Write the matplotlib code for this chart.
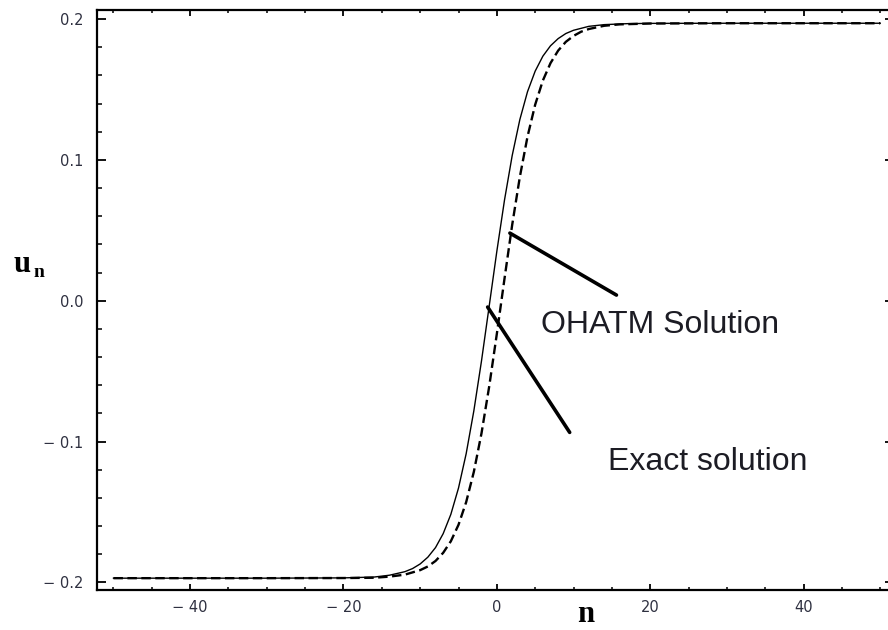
#! /usr/bin/env python3

'''
Kink solution u_n of the lattice equation: OHATM approximation against
the exact solution, with pointer lines labelling each curve.
'''


import matplotlib
matplotlib.use('Agg')
import matplotlib.pyplot as plt
from matplotlib.ticker import FuncFormatter, MultipleLocator


# OHATM solution (solid)
n_ohatm = [-50, -30, -20, -16, -14, -12, -11, -10, -9, -8, -7, -6, -5, -4,
           -3, -2, -1, 0, 1, 2, 3, 4, 5, 6, 7, 8, 9, 10, 12, 14, 17, 20,
           30, 50]
u_ohatm = [-0.1970, -0.1970, -0.1968, -0.1962, -0.1949, -0.1924, -0.1902,
           -0.1869, -0.1821, -0.1753, -0.1654, -0.1517, -0.1330, -0.1086,
           -0.0782, -0.0427, -0.0039, 0.0351, 0.0715, 0.1030, 0.1286,
           0.1484, 0.1630, 0.1736, 0.1810, 0.1861, 0.1897, 0.1920, 0.1948,
           0.1960, 0.1967, 0.1969, 0.1970, 0.1970]

# exact solution (dashed)
n_exact = [-50, -30, -20, -16, -14, -12, -10, -9, -8, -7, -6, -5, -4, -3,
           -2, -1, 0, 1, 2, 3, 4, 5, 6, 7, 8, 9, 10, 11, 12, 14, 16, 20,
           30, 50]
u_exact = [-0.1970, -0.1970, -0.1969, -0.1967, -0.1959, -0.1945, -0.1913,
           -0.1887, -0.1848, -0.1790, -0.1708, -0.1591, -0.1430, -0.1215,
           -0.0941, -0.0610, -0.0235, 0.0157, 0.0538, 0.0879, 0.1165,
           0.1392, 0.1563, 0.1687, 0.1776, 0.1838, 0.1880, 0.1910, 0.1929,
           0.1952, 0.1962, 0.1968, 0.1970, 0.1970]

# pointer lines: (tip on curve, tail near label)
ohatm_pointer = [(1.7, 0.048), (15.6, 0.004)]
exact_pointer = [(-1.2, -0.0045), (9.5, -0.0935)]

x_major, x_minor = 20, 5
y_major, y_minor = 0.1, 0.02

tick_colour = '#2e3040'


def spaced_minus(txt: str) -> str:
    '''Tick label with a detached minus sign.'''
    if txt.startswith('-'):
        return '\u2212 ' + txt[1:]
    return txt


def main():
    fig = plt.figure(figsize=(8.88, 6.30), dpi=100)
    ax = fig.add_axes([97 / 888, 40 / 630, 797 / 888, 580 / 630])

    ax.plot(n_ohatm, u_ohatm, color='black', linewidth=1.0,
            linestyle='-', solid_joinstyle='round')
    ax.plot(n_exact, u_exact, color='black', linewidth=1.7,
            linestyle=(0, (4, 1.9)))

    for (tip, tail) in (ohatm_pointer, exact_pointer):
        ax.plot([tip[0], tail[0]], [tip[1], tail[1]], color='black',
                linewidth=2.6, solid_capstyle='round')

    label_style = dict(fontsize=23, family='Liberation Sans',
                       color='#1c1c24', va='baseline', ha='left')
    ax.text(5.7, -0.023, 'OHATM Solution', **label_style)
    ax.text(14.5, -0.120, 'Exact solution', **label_style)

    ax.set_xlim(-52.15, 51.8)
    ax.set_ylim(-0.2054, 0.2064)

    ax.xaxis.set_major_locator(MultipleLocator(x_major))
    ax.xaxis.set_minor_locator(MultipleLocator(x_minor))
    ax.yaxis.set_major_locator(MultipleLocator(y_major))
    ax.yaxis.set_minor_locator(MultipleLocator(y_minor))
    ax.xaxis.set_major_formatter(
        FuncFormatter(lambda v, p: spaced_minus(f'{round(v):d}')))
    ax.yaxis.set_major_formatter(
        FuncFormatter(lambda v, p: spaced_minus(f'{round(v, 2) + 0.0:.1f}')))

    for spine in ax.spines.values():
        spine.set_linewidth(1.6)

    ax.tick_params(which='both', direction='in', top=True, right=True,
                   colors='black', labelcolor=tick_colour, labelsize=10.5)
    ax.tick_params(axis='x', which='major', length=4.5, width=1.3, pad=7)
    ax.tick_params(axis='x', which='minor', length=2.2, width=1.1)
    ax.tick_params(axis='y', which='major', length=6.5, width=1.3, pad=10)
    ax.tick_params(axis='y', which='minor', length=3.4, width=1.1)

    # axis labels: bold serif n and u with subscript n
    fig.text(586 / 888, 1 - 622 / 630, 'n', fontsize=22,
             family='Liberation Serif', weight='bold', ha='center',
             va='baseline')
    fig.text(14 / 888, 1 - 272 / 630, 'u', fontsize=22,
             family='Liberation Serif', weight='bold', ha='left',
             va='baseline')
    fig.text(33 / 888, 1 - 277 / 630, 'n', fontsize=14,
             family='Liberation Serif', weight='bold', ha='left',
             va='baseline')

    fig.savefig('out.png', dpi=100)


if __name__ == '__main__':
    main()
